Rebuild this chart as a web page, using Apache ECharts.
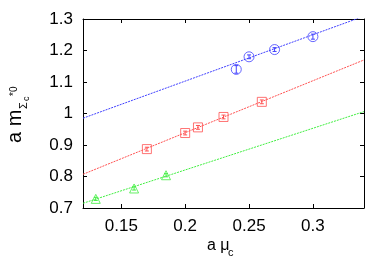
<!DOCTYPE html>
<html><head><meta charset="utf-8">
<script src="https://cdn.jsdelivr.net/npm/echarts@6/dist/echarts.min.js"></script>
<style>html,body{margin:0;padding:0;background:#fff}#c{width:392px;height:274px}</style>
</head><body><div id="c"></div>
<script>
var xTicks = [0.15, 0.2, 0.25, 0.3];
var yTicks = [0.7, 0.8, 0.9, 1, 1.1, 1.2, 1.3];
// blue circles
var blueX = [0.24, 0.25, 0.27, 0.30];
var blueY = [1.140, 1.180, 1.203, 1.244];
var blueErr = [0.012, 0.006, 0.006, 0.008];
var blueFitX = [0.12, 0.34];
var blueFitY = [0.985, 1.309];
// red squares
var redX = [0.17, 0.20, 0.21, 0.23, 0.26];
var redY = [0.887, 0.938, 0.956, 0.989, 1.037];
var redErr = [0.006, 0.006, 0.006, 0.006, 0.006];
var redFitX = [0.12, 0.34];
var redFitY = [0.807, 1.170];
// green triangles
var greenX = [0.13, 0.16, 0.185];
var greenY = [0.729, 0.762, 0.804];
var greenErr = [0.005, 0.005, 0.005];
var greenFitX = [0.12, 0.34];
var greenFitY = [0.715, 1.006];

function pts(xs, ys){ return xs.map(function(x,i){return [x, ys[i]];}); }
function errPts(xs, ys, es){ return xs.map(function(x,i){return [x, ys[i]-es[i], ys[i]+es[i]];}); }

var FONT = 'Liberation Sans';
var chart = echarts.init(document.getElementById('c'), null, {renderer:'canvas'});

function errSeries(xs, ys, es, color){
  return {
    type:'custom', z:5,
    data: errPts(xs, ys, es),
    renderItem: function(params, api){
      var lo = api.coord([api.value(0), api.value(1)]);
      var hi = api.coord([api.value(0), api.value(2)]);
      var w = 2;
      var st = {stroke: color, lineWidth: 1};
      return {type:'group', children:[
        {type:'line', shape:{x1:lo[0],y1:lo[1],x2:hi[0],y2:hi[1]}, style:st},
        {type:'line', shape:{x1:lo[0]-w,y1:lo[1],x2:lo[0]+w,y2:lo[1]}, style:st},
        {type:'line', shape:{x1:hi[0]-w,y1:hi[1],x2:hi[0]+w,y2:hi[1]}, style:st}
      ]};
    }
  };
}
function fit(xs, ys, color){
  return {type:'line', data: pts(xs, ys), symbol:'none', clip:true, z:2,
    lineStyle:{color: color, width:1, type:[2,1]}};
}
function scat(xs, ys, sym, size, color){
  return {type:'scatter', data: pts(xs, ys), symbol: sym, symbolSize: size, z:4,
    itemStyle:{color:'rgba(0,0,0,0)', borderColor: color, borderWidth:1}};
}

var axisCommon = {
  axisLine:{show:true, lineStyle:{color:'#000', width:1}},
  axisTick:{show:true, inside:true, length:4, lineStyle:{color:'#000'}},
  splitLine:{show:false}
};

chart.setOption({
  animation:false,
  grid:{left:83, top:19, right:28, bottom:66},
  xAxis:[
    {type:'value', min:0.12, max:0.34, position:'bottom',
      axisLine:{show:true, lineStyle:{color:'#000'}},
      axisLabel:{fontFamily:FONT, fontSize:17, color:'#000', margin:10,
        customValues: xTicks, formatter:function(v){return String(+(+v).toFixed(2));}},
      axisTick:{show:true, inside:true, length:4, customValues: xTicks, lineStyle:{color:'#000'}},
      splitLine:{show:false}},
    {type:'value', min:0.12, max:0.34, position:'top',
      axisLine:{show:true, lineStyle:{color:'#000'}},
      axisTick:{show:true, inside:true, length:4, customValues: xTicks, lineStyle:{color:'#000'}},
      axisLabel:{show:false}, splitLine:{show:false}}
  ],
  yAxis:[
    Object.assign({type:'value', min:0.7, max:1.3, interval:0.1, position:'left',
      axisLabel:{fontFamily:FONT, fontSize:17, color:'#000', margin:10,
        formatter:function(v){return String(+v.toFixed(1));}}
    }, axisCommon),
    Object.assign({type:'value', min:0.7, max:1.3, interval:0.1, position:'right',
      axisLabel:{show:false}}, axisCommon)
  ],
  graphic:[
    {type:'text', left:207, top:238, style:{text:'a μ', font:'16px "Liberation Sans"', fill:'#000'}},
    {type:'text', left:228, top:247, style:{text:'c', font:'11px "Liberation Sans"', fill:'#000'}},
    {type:'group', x:25, y:143, rotation:Math.PI/2, children:[
      {type:'text', x:0, y:0, style:{text:'a m', font:'20px "Liberation Sans"', fill:'#000', textVerticalAlign:'bottom'}},
      {type:'text', x:34, y:4, style:{text:'Σ', font:'11px "Liberation Sans"', fill:'#000', textVerticalAlign:'bottom'}},
      {type:'text', x:42, y:6, style:{text:'c', font:'9px "Liberation Sans"', fill:'#000', textVerticalAlign:'bottom'}},
      {type:'text', x:47, y:-6, style:{text:'*0', font:'10px "Liberation Sans"', fill:'#000', textVerticalAlign:'bottom'}}
    ]}
  ],
  series:[
    fit(blueFitX, blueFitY, '#4040ff'),
    fit(redFitX, redFitY, '#ff5050'),
    fit(greenFitX, greenFitY, '#40ee40'),
    errSeries(blueX, blueY, blueErr, '#4040ff'),
    errSeries(redX, redY, redErr, '#ff5050'),
    errSeries(greenX, greenY, greenErr, '#40ee40'),
    scat(blueX, blueY, 'circle', 10, '#4040ff'),
    scat(redX, redY, 'rect', 9, '#ff5050'),
    scat(greenX, greenY, 'triangle', 9, '#40ee40')
  ]
});
</script></body></html>
